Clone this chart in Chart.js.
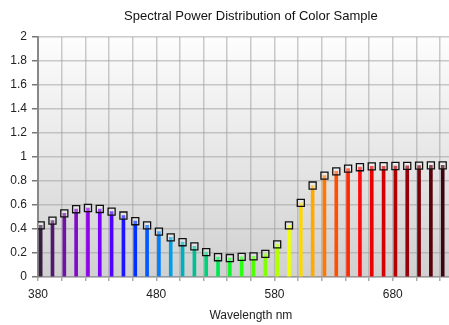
<!DOCTYPE html>
<html>
<head>
<meta charset="utf-8">
<script src="https://cdn.jsdelivr.net/npm/chart.js@4"></script>
<style>
  html, body { margin: 0; padding: 0; background: #fff; overflow: hidden; }
</style>
</head>
<body>
<canvas id="spdChart" width="470" height="325"></canvas>
<script>
// wavelengths (nm) and relative spectral power
const wavelengths = [380, 390, 400, 410, 420, 430, 440, 450, 460, 470,
                     480, 490, 500, 510, 520, 530, 540, 550, 560, 570,
                     580, 590, 600, 610, 620, 630, 640, 650, 660, 670,
                     680, 690, 700, 710, 720];
const power = [0.43, 0.47, 0.53, 0.565, 0.575, 0.567, 0.545, 0.512, 0.465, 0.43,
               0.378, 0.33, 0.29, 0.255, 0.207, 0.165, 0.158, 0.168, 0.172, 0.193,
               0.272, 0.43, 0.618, 0.762, 0.845, 0.88, 0.903, 0.915, 0.922, 0.923,
               0.925, 0.926, 0.928, 0.93, 0.93];
const xTickLabels = [380, 480, 580, 680];

// colour of each bar (roughly the hue of the wavelength)
const barColors = [
    'rgb(55,30,65)', 'rgb(80,25,110)', 'rgb(110,20,160)', 'rgb(130,10,200)', 'rgb(145,0,235)',
    'rgb(120,0,255)', 'rgb(80,0,255)', 'rgb(30,20,255)', 'rgb(0,50,255)', 'rgb(0,90,255)',
    'rgb(0,125,255)', 'rgb(0,160,230)', 'rgb(0,175,190)', 'rgb(0,190,150)', 'rgb(0,210,120)',
    'rgb(0,230,80)', 'rgb(20,245,40)', 'rgb(40,255,20)', 'rgb(80,255,0)', 'rgb(130,255,0)',
    'rgb(180,255,0)', 'rgb(240,255,0)', 'rgb(255,215,0)', 'rgb(255,170,0)', 'rgb(255,120,0)',
    'rgb(255,80,0)', 'rgb(255,40,0)', 'rgb(255,10,10)', 'rgb(235,0,0)', 'rgb(210,0,0)',
    'rgb(180,0,0)', 'rgb(150,0,10)', 'rgb(120,0,10)', 'rgb(90,0,10)', 'rgb(60,5,15)'
];

Chart.defaults.font.family = "'Liberation Sans', Arial, sans-serif";
Chart.defaults.font.size = 12;
Chart.defaults.color = '#222';

const gridColor = 'rgba(160,160,160,0.55)';

// grey gradient behind the plot area
const plotBackground = {
    id: 'plotBackground',
    beforeDraw(chart) {
        const { ctx, chartArea: a } = chart;
        const g = ctx.createLinearGradient(0, a.top, 0, a.bottom);
        g.addColorStop(0, '#fdfdfd');
        g.addColorStop(1, '#d0d0d0');
        ctx.save();
        ctx.fillStyle = g;
        ctx.fillRect(a.left, a.top, a.right - a.left, a.bottom - a.top);
        ctx.restore();
    }
};

const points = wavelengths.map((w, i) => ({ x: w, y: power[i] }));

new Chart(document.getElementById('spdChart'), {
    type: 'bar',
    data: {
        datasets: [{
            type: 'line',
            data: points,
            xAxisID: 'xb',
            showLine: false,
            pointStyle: 'rect',
            pointRadius: 5,
            pointBorderWidth: 1.3,
            pointBorderColor: '#111',
            pointBackgroundColor: 'rgba(255,255,255,0.3)',
            order: 0
        }, {
            data: points,
            xAxisID: 'xb',
            backgroundColor: barColors,
            barThickness: 3,
            order: 1
        }]
    },
    options: {
        responsive: false,
        animation: false,
        layout: { padding: 0 },
        plugins: {
            legend: { display: false },
            tooltip: { enabled: false },
            title: {
                display: true,
                fullSize: false,
                text: 'Spectral Power Distribution of Color Sample',
                color: '#111',
                font: { size: 13, weight: 'normal' },
                padding: { top: 9, bottom: 12.4 }
            }
        },
        scales: {
            x: {
                type: 'linear',
                min: 380,
                max: 740,
                offset: false,
                ticks: {
                    stepSize: 20,
                    autoSkip: false,
                    maxRotation: 0,
                    padding: 6,
                    callback: v => xTickLabels.includes(v) ? String(v) : ''
                },
                grid: { color: gridColor, lineWidth: 1.5, tickLength: 4, tickColor: '#aaa', offset: false },
                border: { color: '#9a9a9a', width: 1.5 },
                title: { display: true, text: 'Wavelength nm', padding: { top: 0, bottom: 2 } },
                afterFit(s) { s.height = 48; }
            },
            xb: {
                type: 'linear',
                display: false,
                min: 377.75,
                max: 737.75,
                offset: false
            },
            y: {
                min: 0,
                max: 2,
                ticks: {
                    stepSize: 0.2,
                    padding: 5,
                    callback: v => String(Math.round(v * 10) / 10)
                },
                grid: { color: gridColor, lineWidth: 1.5, tickLength: 6, tickColor: '#777' },
                border: { color: '#888', width: 2 },
                afterFit(s) { s.width = 38; }
            }
        }
    },
    plugins: [plotBackground]
});
</script>
</body>
</html>
